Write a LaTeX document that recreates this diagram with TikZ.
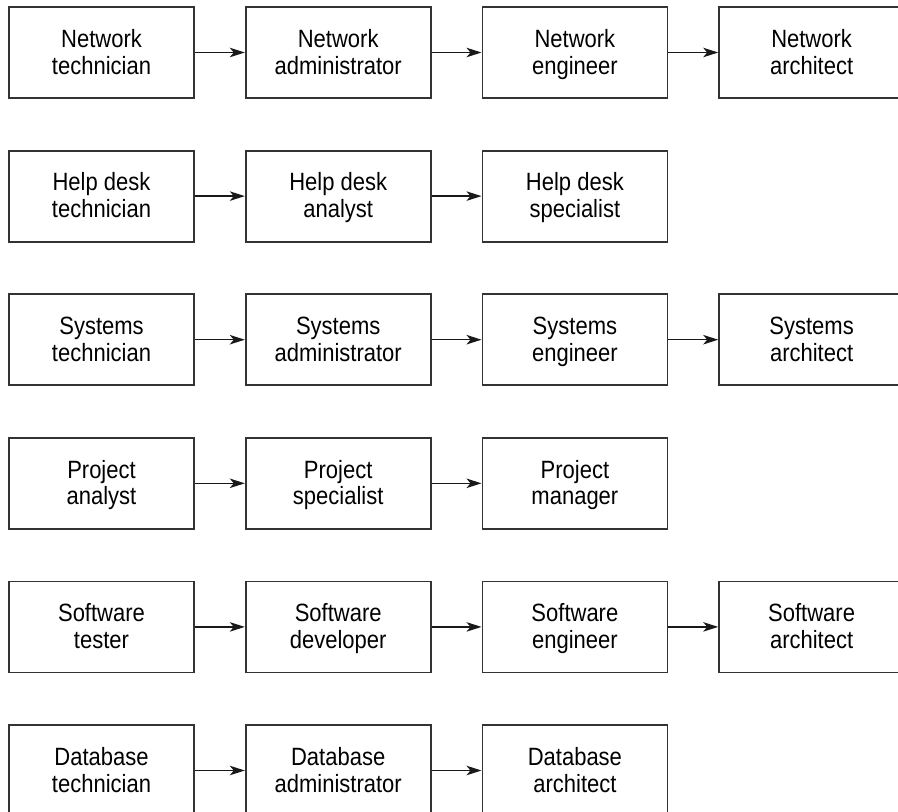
\documentclass[tikz,border=0pt]{standalone}
\usepackage{fontspec}
\setmainfont[FakeStretch=0.88]{Liberation Sans}
\usetikzlibrary{arrows.meta}
\newcommand\jl{\rule[-5.2pt]{0pt}{26.7pt}}
\begin{document}
\begin{tikzpicture}[x=1pt,y=-1pt,
  jobbox/.style={draw=black!80, line width=1.8pt, minimum width=185pt, minimum height=91pt,
    inner sep=0pt, align=center, font=\fontsize{25}{26.7}\selectfont},
  flow/.style={line width=1.3pt, draw=black!90, -{Stealth[length=15pt,width=9.5pt,inset=4pt]}}]
\clip (0,0) rectangle (898,812);
\fill[white] (0,0) rectangle (898,812);
\def\cA{101.5}\def\cB{338.2}\def\cC{574.9}\def\cD{811.6}
% row 1
\node[jobbox] (n1) at (\cA,52.5) {\jl Network\\\jl technician};
\node[jobbox] (n2) at (\cB,52.5) {\jl Network\\\jl administrator};
\node[jobbox] (n3) at (\cC,52.5) {\jl Network\\\jl engineer};
\node[jobbox] (n4) at (\cD,52.5) {\jl Network\\\jl architect};
% row 2
\node[jobbox] (h1) at (\cA,196.1) {\jl Help desk\\\jl technician};
\node[jobbox] (h2) at (\cB,196.1) {\jl Help desk\\\jl analyst};
\node[jobbox] (h3) at (\cC,196.1) {\jl Help desk\\\jl specialist};
% row 3
\node[jobbox] (s1) at (\cA,339.7) {\jl Systems\\\jl technician};
\node[jobbox] (s2) at (\cB,339.7) {\jl Systems\\\jl administrator};
\node[jobbox] (s3) at (\cC,339.7) {\jl Systems\\\jl engineer};
\node[jobbox] (s4) at (\cD,339.7) {\jl Systems\\\jl architect};
% row 4
\node[jobbox] (p1) at (\cA,483.3) {\jl Project\\\jl analyst};
\node[jobbox] (p2) at (\cB,483.3) {\jl Project\\\jl specialist};
\node[jobbox] (p3) at (\cC,483.3) {\jl Project\\\jl manager};
% row 5
\node[jobbox] (w1) at (\cA,626.9) {\jl Software\\\jl tester};
\node[jobbox] (w2) at (\cB,626.9) {\jl Software\\\jl developer};
\node[jobbox] (w3) at (\cC,626.9) {\jl Software\\\jl engineer};
\node[jobbox] (w4) at (\cD,626.9) {\jl Software\\\jl architect};
% row 6
\node[jobbox] (d1) at (\cA,770.5) {\jl Database\\\jl technician};
\node[jobbox] (d2) at (\cB,770.5) {\jl Database\\\jl administrator};
\node[jobbox] (d3) at (\cC,770.5) {\jl Database\\\jl architect};
% arrows
\draw[flow] (n1) -- (n2); \draw[flow] (n2) -- (n3); \draw[flow] (n3) -- (n4);
\draw[flow] (h1) -- (h2); \draw[flow] (h2) -- (h3);
\draw[flow] (s1) -- (s2); \draw[flow] (s2) -- (s3); \draw[flow] (s3) -- (s4);
\draw[flow] (p1) -- (p2); \draw[flow] (p2) -- (p3);
\draw[flow] (w1) -- (w2); \draw[flow] (w2) -- (w3); \draw[flow] (w3) -- (w4);
\draw[flow] (d1) -- (d2); \draw[flow] (d2) -- (d3);
\end{tikzpicture}
\end{document}
